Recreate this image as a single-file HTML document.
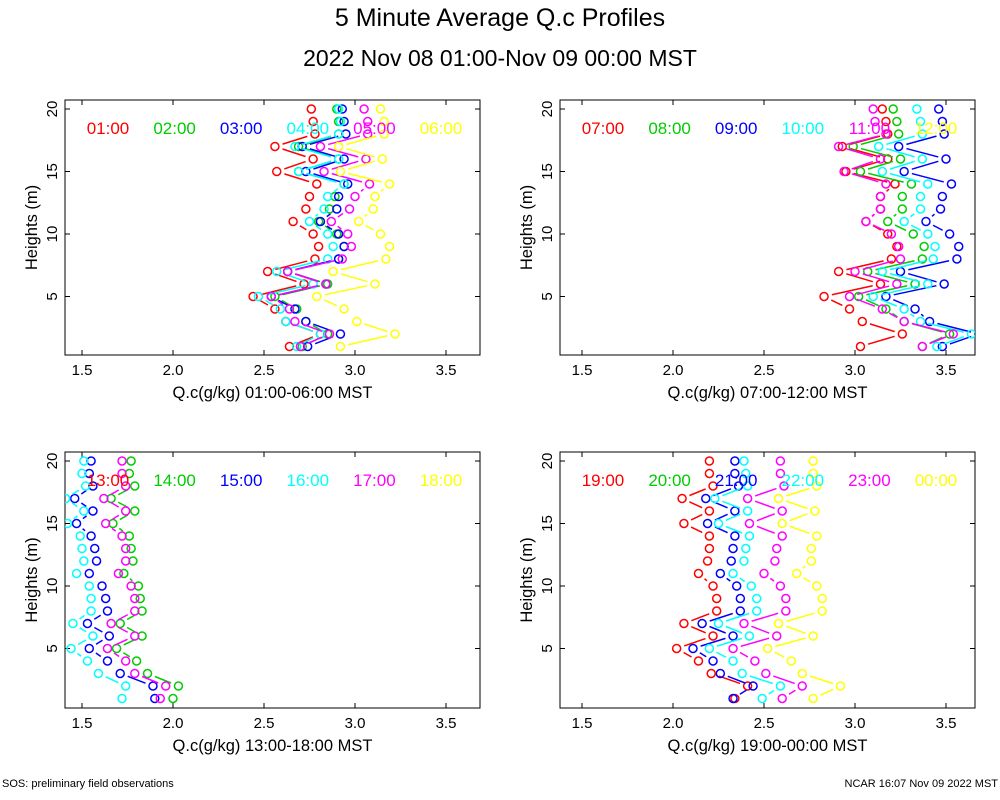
<!DOCTYPE html>
<html><head><meta charset="utf-8"><style>
body{margin:0;background:#fff;}
svg{display:block;font-family:"Liberation Sans",sans-serif;}
</style></head><body>
<svg id="chart" width="1000" height="800" viewBox="0 0 1000 800">
<text x="500" y="26" font-size="25" text-anchor="middle">5 Minute Average Q.c Profiles</text>
<text x="500" y="66" font-size="23" text-anchor="middle">2022 Nov 08 01:00-Nov 09 00:00 MST</text>
<text x="2" y="787" font-size="11">SOS: preliminary field observations</text>
<text x="998" y="787" font-size="11" text-anchor="end">NCAR 16:07 Nov 09 2022 MST</text>
</svg>
<script>
const heights = [1,2,3,4,5,6,7,8,9,10,11,12,13,14,15,16,17,18,19,20];
const xTicks = [1.5,2.0,2.5,3.0,3.5];
const xTickLabels = ["1.5","2.0","2.5","3.0","3.5"];
const yTicks = [5,10,15,20];
const yTickLabels = ["5","10","15","20"];
const colors = ["#ff0000","#00cc00","#0000ff","#00ffff","#ff00ff","#ffff00"];

const p1Labels = ["01:00","02:00","03:00","04:00","05:00","06:00"];
const p1Red = [2.64,2.81,2.62,2.56,2.44,2.72,2.52,2.78,2.80,2.77,2.66,2.73,2.75,2.79,2.57,2.77,2.56,2.78,2.77,2.76];
const p1Green = [2.71,2.85,2.73,2.68,2.56,2.85,2.63,2.91,2.94,2.90,2.80,2.86,2.89,2.94,2.69,2.91,2.69,2.91,2.91,2.90];
const p1Blue = [2.74,2.92,2.73,2.67,2.54,2.84,2.63,2.91,2.94,2.91,2.81,2.90,2.91,2.96,2.73,2.94,2.71,2.95,2.94,2.93];
const p1Cyan = [2.68,2.81,2.62,2.59,2.47,2.77,2.57,2.85,2.88,2.85,2.75,2.83,2.85,2.94,2.69,2.91,2.67,2.91,2.92,2.91];
const p1Magenta = [2.70,2.86,2.67,2.64,2.54,2.84,2.63,2.93,2.98,2.96,2.87,2.97,3.00,3.08,2.83,3.06,2.81,3.07,3.07,3.05];
const p1Yellow = [2.92,3.22,3.01,2.94,2.79,3.11,2.88,3.17,3.19,3.14,3.02,3.10,3.11,3.19,2.92,3.15,2.91,3.16,3.16,3.14];

const p2Labels = ["07:00","08:00","09:00","10:00","11:00","12:00"];
const p2Red = [3.03,3.26,3.04,2.97,2.83,3.14,2.91,3.20,3.23,3.18,3.06,3.14,3.14,3.22,2.95,3.18,2.93,3.18,3.17,3.15];
const p2Green = [3.37,3.52,3.27,3.17,3.02,3.33,3.07,3.37,3.38,3.32,3.18,3.26,3.26,3.31,3.03,3.25,2.99,3.24,3.23,3.21];
const p2Blue = [3.48,3.68,3.41,3.33,3.17,3.49,3.25,3.56,3.57,3.52,3.39,3.47,3.48,3.53,3.27,3.50,3.24,3.49,3.48,3.46];
const p2Cyan = [3.45,3.64,3.36,3.27,3.10,3.40,3.15,3.43,3.44,3.40,3.27,3.36,3.36,3.40,3.15,3.37,3.13,3.37,3.36,3.34];
const p2Magenta = [3.37,3.54,3.27,3.15,2.97,3.23,3.00,3.25,3.24,3.20,3.06,3.14,3.14,3.17,2.94,3.14,2.91,3.17,3.11,3.10];
const p2Yellow = [3.80,4.00,3.78,3.76,3.72,3.82,3.74,3.85,3.86,3.84,3.78,3.82,3.83,3.86,3.75,3.84,3.74,3.84,3.83,3.82];

const p3Labels = ["13:00","14:00","15:00","16:00","17:00","18:00"];
const p3Red = [1.35,1.38,1.30,1.28,1.20,1.30,1.22,1.30,1.32,1.30,1.25,1.28,1.28,1.27,1.22,1.28,1.21,1.28,1.27,1.27];
const p3Green = [2.00,2.03,1.86,1.80,1.69,1.83,1.71,1.83,1.82,1.81,1.73,1.78,1.77,1.76,1.67,1.79,1.66,1.79,1.76,1.77];
const p3Blue = [1.90,1.89,1.71,1.64,1.54,1.65,1.53,1.64,1.63,1.61,1.54,1.58,1.57,1.55,1.47,1.56,1.46,1.56,1.54,1.55];
const p3Cyan = [1.72,1.74,1.59,1.53,1.44,1.56,1.45,1.55,1.55,1.54,1.47,1.51,1.50,1.49,1.42,1.51,1.41,1.52,1.50,1.51];
const p3Magenta = [1.93,1.96,1.79,1.74,1.64,1.79,1.66,1.79,1.79,1.77,1.70,1.74,1.74,1.72,1.63,1.74,1.62,1.74,1.72,1.72];
const p3Yellow = [1.25,1.28,1.20,1.18,1.10,1.20,1.12,1.20,1.22,1.20,1.15,1.18,1.18,1.17,1.12,1.18,1.11,1.18,1.17,1.17];

const p4Labels = ["19:00","20:00","21:00","22:00","23:00","00:00"];
const p4Red = [2.34,2.41,2.21,2.14,2.02,2.22,2.06,2.24,2.24,2.22,2.14,2.19,2.20,2.20,2.06,2.20,2.05,2.22,2.20,2.20];
const p4Green = [1.25,1.28,1.20,1.18,1.10,1.20,1.12,1.20,1.22,1.20,1.15,1.18,1.18,1.17,1.12,1.18,1.11,1.18,1.17,1.17];
const p4Blue = [2.33,2.44,2.26,2.22,2.11,2.33,2.16,2.37,2.37,2.35,2.26,2.32,2.33,2.34,2.19,2.34,2.18,2.36,2.34,2.34];
const p4Cyan = [2.49,2.59,2.38,2.33,2.20,2.42,2.25,2.46,2.46,2.43,2.33,2.39,2.40,2.42,2.25,2.41,2.23,2.41,2.40,2.39];
const p4Magenta = [2.60,2.71,2.51,2.45,2.33,2.57,2.39,2.62,2.62,2.59,2.50,2.56,2.57,2.60,2.42,2.60,2.41,2.61,2.59,2.59];
const p4Yellow = [2.77,2.92,2.71,2.65,2.52,2.77,2.58,2.82,2.82,2.79,2.68,2.76,2.76,2.79,2.60,2.78,2.58,2.79,2.77,2.77];

const panels = [
 {id:"p1", x0:65, x1:480, y0:100, y1:355, xa:82, ya:109, title:"Q.c(g/kg) 01:00-06:00 MST", labels:p1Labels, series:[p1Red,p1Green,p1Blue,p1Cyan,p1Magenta,p1Yellow]},
 {id:"p2", x0:560, x1:975, y0:100, y1:355, xa:582, ya:109, title:"Q.c(g/kg) 07:00-12:00 MST", labels:p2Labels, series:[p2Red,p2Green,p2Blue,p2Cyan,p2Magenta,p2Yellow]},
 {id:"p3", x0:65, x1:480, y0:452, y1:708, xa:82, ya:461, title:"Q.c(g/kg) 13:00-18:00 MST", labels:p3Labels, series:[p3Red,p3Green,p3Blue,p3Cyan,p3Magenta,p3Yellow]},
 {id:"p4", x0:560, x1:975, y0:452, y1:708, xa:582, ya:461, title:"Q.c(g/kg) 19:00-00:00 MST", labels:p4Labels, series:[p4Red,p4Green,p4Blue,p4Cyan,p4Magenta,p4Yellow]}
];
const NS = "http://www.w3.org/2000/svg";
const svg = document.getElementById("chart");
function mk(tag, attrs, parent){ const e=document.createElementNS(NS,tag); for(const k in attrs) e.setAttribute(k,attrs[k]); (parent||svg).appendChild(e); return e; }
const defs = mk("defs",{});
panels.forEach((p,pi)=>{
  const xs = v => p.xa + (v-1.5)*182;
  const ys = h => p.ya + (20-h)*12.5;
  const g = mk("g",{});
  
  
  const cp = mk("clipPath",{id:"clip"+p.id},defs);
  mk("rect",{x:p.x0,y:p.y0,width:p.x1-p.x0,height:p.y1-p.y0},cp);
  const frame = mk("rect",{x:p.x0,y:p.y0,width:p.x1-p.x0,height:p.y1-p.y0,fill:"none",stroke:"#000","stroke-width":1},g);
  
  
  xTicks.forEach((t,i)=>{
    const x = xs(t);
    mk("line",{x1:x,y1:p.y1,x2:x,y2:p.y1-5,stroke:"#000"},g);
    mk("line",{x1:x,y1:p.y0,x2:x,y2:p.y0+5,stroke:"#000"},g);
    const tl = mk("text",{x:x,y:p.y1+20,"font-size":15,"text-anchor":"middle"},g);
    tl.textContent = xTickLabels[i];
    
    
  });
  yTicks.forEach((t,i)=>{
    const y = ys(t);
    mk("line",{x1:p.x0,y1:y,x2:p.x0+5,y2:y,stroke:"#000"},g);
    mk("line",{x1:p.x1,y1:y,x2:p.x1-5,y2:y,stroke:"#000"},g);
    const tl = mk("text",{x:0,y:0,"font-size":15,"text-anchor":"middle",transform:"translate("+(p.x0-8)+","+y+") rotate(-90)"},g);
    tl.textContent = yTickLabels[i];
    
    
  });
  const xt = mk("text",{x:(p.x0+p.x1)/2,y:p.y1+43,"font-size":16.5,"text-anchor":"middle"},g);
  xt.textContent = p.title;
  
  
  const yt = mk("text",{x:0,y:0,"font-size":16.5,"text-anchor":"middle",transform:"translate("+(p.x0-28)+","+((p.y0+p.y1)/2)+") rotate(-90)"},g);
  yt.textContent = "Heights (m)";
  
  
  const plot = mk("g",{"clip-path":"url(#clip"+p.id+")"},g);
  p.series.forEach((vals,si)=>{
    const sg = mk("g",{},plot);
    
    
    const c = colors[si];
    for(let i=0;i<vals.length-1;i++){
      const ax=xs(vals[i]), ay=ys(heights[i]), bx=xs(vals[i+1]), by=ys(heights[i+1]);
      const dx=bx-ax, dy=by-ay, L=Math.hypot(dx,dy);
      if(L>18){
        const s=8/L;
        const ln = mk("line",{x1:ax+dx*s,y1:ay+dy*s,x2:bx-dx*s,y2:by-dy*s,stroke:c,"stroke-width":1.5},sg);
        
        
      }
    }
    vals.forEach((v,i)=>{
      const ci = mk("circle",{cx:xs(v),cy:ys(heights[i]),r:4,fill:"none",stroke:c,"stroke-width":1.5},sg);
      
      
    });
  });
  p.labels.forEach((lab,i)=>{
    const lt = mk("text",{x:p.x0+43+i*66.6,y:p.y0+34,"font-size":17,"text-anchor":"middle",fill:colors[i]},g);
    lt.textContent = lab;
    
    
  });
});
</script>
</body></html>
